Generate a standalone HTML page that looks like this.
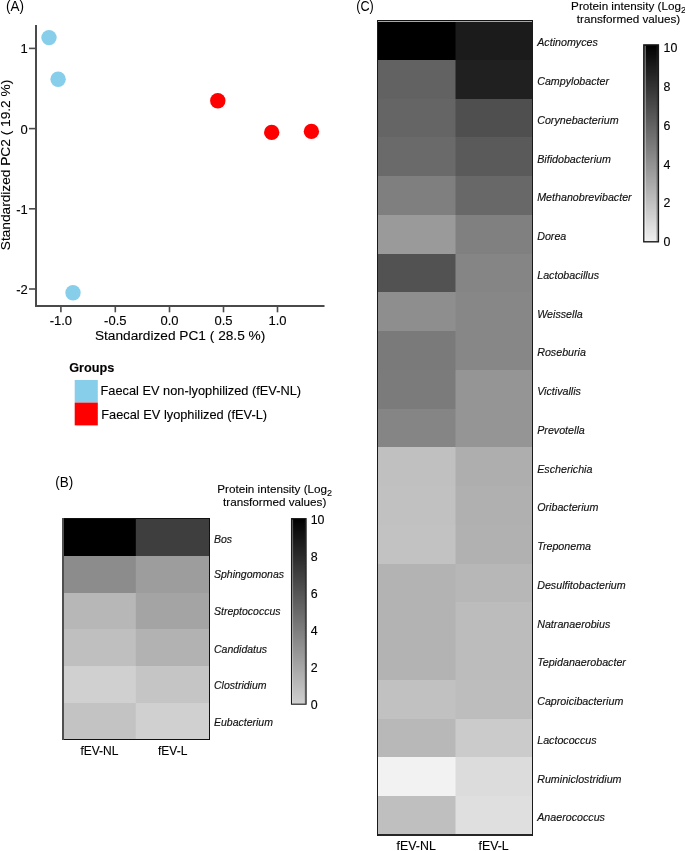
<!DOCTYPE html>
<html><head><meta charset="utf-8"><style>
html,body{margin:0;padding:0;background:#fff;}
svg{display:block;}
text{font-family:"Liberation Sans", Arial, sans-serif;fill:#000;stroke:#000;stroke-width:0.12px;}
text.pl{fill:#000;stroke:none;}
text.it{fill:#111;stroke:#111;stroke-width:0.15px;}
</style></head><body>
<svg width="685" height="851" viewBox="0 0 685 851">
<text class="pl" transform="translate(5.9,10.9) scale(0.97,1)" font-size="13.9">(A)</text>
<path d="M36 25 V306 H324.5" fill="none" stroke="#4a4a4a" stroke-width="2"/>
<line x1="29" y1="48.4" x2="36" y2="48.4" stroke="#4a4a4a" stroke-width="1.6"/>
<text x="27.7" y="53.3" font-size="13" text-anchor="end" >1</text>
<line x1="29" y1="128.6" x2="36" y2="128.6" stroke="#4a4a4a" stroke-width="1.6"/>
<text x="27.7" y="133.5" font-size="13" text-anchor="end" >0</text>
<line x1="29" y1="208.8" x2="36" y2="208.8" stroke="#4a4a4a" stroke-width="1.6"/>
<text x="27.7" y="213.7" font-size="13" text-anchor="end" >-1</text>
<line x1="29" y1="289.0" x2="36" y2="289.0" stroke="#4a4a4a" stroke-width="1.6"/>
<text x="27.7" y="293.9" font-size="13" text-anchor="end" >-2</text>
<line x1="60.9" y1="306" x2="60.9" y2="312.3" stroke="#4a4a4a" stroke-width="1.6"/>
<text x="60.9" y="324.9" font-size="13" text-anchor="middle" >-1.0</text>
<line x1="115.3" y1="306" x2="115.3" y2="312.3" stroke="#4a4a4a" stroke-width="1.6"/>
<text x="115.3" y="324.9" font-size="13" text-anchor="middle" >-0.5</text>
<line x1="169.5" y1="306" x2="169.5" y2="312.3" stroke="#4a4a4a" stroke-width="1.6"/>
<text x="169.5" y="324.9" font-size="13" text-anchor="middle" >0.0</text>
<line x1="223.5" y1="306" x2="223.5" y2="312.3" stroke="#4a4a4a" stroke-width="1.6"/>
<text x="223.5" y="324.9" font-size="13" text-anchor="middle" >0.5</text>
<line x1="277.5" y1="306" x2="277.5" y2="312.3" stroke="#4a4a4a" stroke-width="1.6"/>
<text x="277.5" y="324.9" font-size="13" text-anchor="middle" >1.0</text>
<text x="94.9" y="340" font-size="13.7" text-anchor="start" >Standardized PC1 ( 28.5 %)</text>
<text transform="translate(10.4,165) rotate(-90)" x="0" y="0" font-size="13.7" text-anchor="middle">Standardized PC2 ( 19.2 %)</text>
<circle cx="49" cy="37.6" r="7.7" fill="#87ceeb"/>
<circle cx="58.1" cy="79.2" r="7.7" fill="#87ceeb"/>
<circle cx="73" cy="292.8" r="7.7" fill="#87ceeb"/>
<circle cx="217.8" cy="100.7" r="7.7" fill="#ff0000"/>
<circle cx="271.7" cy="132.4" r="7.7" fill="#ff0000"/>
<circle cx="311.4" cy="131.4" r="7.7" fill="#ff0000"/>
<text x="69.2" y="371.8" font-size="12.7" text-anchor="start" font-weight="bold">Groups</text>
<rect x="74.7" y="380" width="23.1" height="22.6" fill="#87ceeb"/>
<rect x="74.7" y="402.6" width="23.1" height="22.8" fill="#ff0000"/>
<text x="100.5" y="395" font-size="12.8" text-anchor="start" >Faecal EV non-lyophilized (fEV-NL)</text>
<text x="101.3" y="419" font-size="12.8" text-anchor="start" >Faecal EV lyophilized (fEV-L)</text>
<text class="pl" transform="translate(55.3,486.7) scale(0.97,1)" font-size="13.9">(B)</text>
<rect x="63" y="519" width="73" height="37" fill="#000000" shape-rendering="crispEdges"/>
<rect x="135.8" y="519" width="73.19999999999999" height="37" fill="#3e3e3e"/>
<text x="214" y="542.7" font-size="10.5" text-anchor="start" font-style="italic" class="it">Bos</text>
<rect x="63" y="556" width="73" height="37" fill="#8c8c8c" shape-rendering="crispEdges"/>
<rect x="135.8" y="556" width="73.19999999999999" height="37" fill="#9d9d9d"/>
<text x="214" y="577.6" font-size="10.5" text-anchor="start" font-style="italic" class="it">Sphingomonas</text>
<rect x="63" y="593" width="73" height="36" fill="#b7b7b7" shape-rendering="crispEdges"/>
<rect x="135.8" y="593" width="73.19999999999999" height="36" fill="#a4a4a4"/>
<text x="214" y="614.7" font-size="10.5" text-anchor="start" font-style="italic" class="it">Streptococcus</text>
<rect x="63" y="629" width="73" height="37" fill="#bfbfbf" shape-rendering="crispEdges"/>
<rect x="135.8" y="629" width="73.19999999999999" height="37" fill="#b2b2b2"/>
<text x="214" y="652.6" font-size="10.5" text-anchor="start" font-style="italic" class="it">Candidatus</text>
<rect x="63" y="666" width="73" height="37" fill="#d0d0d0" shape-rendering="crispEdges"/>
<rect x="135.8" y="666" width="73.19999999999999" height="37" fill="#c5c5c5"/>
<text x="214" y="689.3" font-size="10.5" text-anchor="start" font-style="italic" class="it">Clostridium</text>
<rect x="63" y="703" width="73" height="37" fill="#c3c3c3" shape-rendering="crispEdges"/>
<rect x="135.8" y="703" width="73.19999999999999" height="37" fill="#d0d0d0"/>
<text x="214" y="725.8" font-size="10.5" text-anchor="start" font-style="italic" class="it">Eubacterium</text>
<g shape-rendering="crispEdges"><rect x="62" y="518" width="148" height="1" fill="#111"/><rect x="62" y="739" width="148" height="1" fill="#111"/><rect x="209" y="518" width="1" height="222" fill="#111"/><rect x="62" y="518" width="2" height="222" fill="#4f4f4f"/></g>
<text x="99.4" y="754.9" font-size="12" text-anchor="middle" >fEV-NL</text>
<text x="172.7" y="754.9" font-size="12" text-anchor="middle" >fEV-L</text>
<text x="274.7" y="492.5" font-size="11.7" text-anchor="middle">Protein intensity (Log<tspan font-size="9" dy="3.4">2</tspan></text>
<text x="274.7" y="505.7" font-size="11.7" text-anchor="middle" >transformed values)</text>
<defs><linearGradient id="gB" x1="0" y1="0" x2="0" y2="1"><stop offset="0" stop-color="#000"/><stop offset="1" stop-color="#d0d0d0"/></linearGradient><linearGradient id="gC" x1="0" y1="0" x2="0" y2="1"><stop offset="0" stop-color="#000"/><stop offset="1" stop-color="#f0f0f0"/></linearGradient></defs>
<rect x="291.5" y="518.6" width="14.6" height="185.6" fill="url(#gB)" stroke="#1a1a1a" stroke-width="1.1"/>
<line x1="292.6" y1="519.5" x2="292.6" y2="703.5" stroke="#fff" stroke-opacity="0.35" stroke-width="1"/>
<line x1="305.3" y1="519.5" x2="305.3" y2="703.5" stroke="#333" stroke-opacity="0.5" stroke-width="1"/>
<text x="310.7" y="708.9" font-size="12.4" text-anchor="start" >0</text>
<text x="310.7" y="671.92" font-size="12.4" text-anchor="start" >2</text>
<text x="310.7" y="634.94" font-size="12.4" text-anchor="start" >4</text>
<text x="310.7" y="597.96" font-size="12.4" text-anchor="start" >6</text>
<text x="310.7" y="560.98" font-size="12.4" text-anchor="start" >8</text>
<text x="310.7" y="524.0" font-size="12.4" text-anchor="start" >10</text>
<text class="pl" transform="translate(356.3,11.1) scale(0.91,1)" font-size="13.9">(C)</text>
<rect x="378" y="21" width="78" height="39" fill="#000000" shape-rendering="crispEdges"/>
<rect x="455.5" y="21" width="77.0" height="39" fill="#1b1b1b"/>
<text x="537.2" y="46.28" font-size="10.7" text-anchor="start" font-style="italic" class="it">Actinomyces</text>
<rect x="378" y="60" width="78" height="39" fill="#626262" shape-rendering="crispEdges"/>
<rect x="455.5" y="60" width="77.0" height="39" fill="#202020"/>
<text x="537.2" y="85.04" font-size="10.7" text-anchor="start" font-style="italic" class="it">Campylobacter</text>
<rect x="378" y="99" width="78" height="38" fill="#656565" shape-rendering="crispEdges"/>
<rect x="455.5" y="99" width="77.0" height="38" fill="#4f4f4f"/>
<text x="537.2" y="123.8" font-size="10.7" text-anchor="start" font-style="italic" class="it">Corynebacterium</text>
<rect x="378" y="137" width="78" height="39" fill="#6a6a6a" shape-rendering="crispEdges"/>
<rect x="455.5" y="137" width="77.0" height="39" fill="#5a5a5a"/>
<text x="537.2" y="162.56" font-size="10.7" text-anchor="start" font-style="italic" class="it">Bifidobacterium</text>
<rect x="378" y="176" width="78" height="39" fill="#7f7f7f" shape-rendering="crispEdges"/>
<rect x="455.5" y="176" width="77.0" height="39" fill="#686868"/>
<text x="537.2" y="201.32" font-size="10.7" text-anchor="start" font-style="italic" class="it">Methanobrevibacter</text>
<rect x="378" y="215" width="78" height="39" fill="#9a9a9a" shape-rendering="crispEdges"/>
<rect x="455.5" y="215" width="77.0" height="39" fill="#808080"/>
<text x="537.2" y="240.08" font-size="10.7" text-anchor="start" font-style="italic" class="it">Dorea</text>
<rect x="378" y="254" width="78" height="38" fill="#525252" shape-rendering="crispEdges"/>
<rect x="455.5" y="254" width="77.0" height="38" fill="#858585"/>
<text x="537.2" y="278.84" font-size="10.7" text-anchor="start" font-style="italic" class="it">Lactobacillus</text>
<rect x="378" y="292" width="78" height="39" fill="#8e8e8e" shape-rendering="crispEdges"/>
<rect x="455.5" y="292" width="77.0" height="39" fill="#878787"/>
<text x="537.2" y="317.6" font-size="10.7" text-anchor="start" font-style="italic" class="it">Weissella</text>
<rect x="378" y="331" width="78" height="39" fill="#7a7a7a" shape-rendering="crispEdges"/>
<rect x="455.5" y="331" width="77.0" height="39" fill="#878787"/>
<text x="537.2" y="356.36" font-size="10.7" text-anchor="start" font-style="italic" class="it">Roseburia</text>
<rect x="378" y="370" width="78" height="39" fill="#7b7b7b" shape-rendering="crispEdges"/>
<rect x="455.5" y="370" width="77.0" height="39" fill="#959595"/>
<text x="537.2" y="395.12" font-size="10.7" text-anchor="start" font-style="italic" class="it">Victivallis</text>
<rect x="378" y="409" width="78" height="38" fill="#858585" shape-rendering="crispEdges"/>
<rect x="455.5" y="409" width="77.0" height="38" fill="#959595"/>
<text x="537.2" y="433.88" font-size="10.7" text-anchor="start" font-style="italic" class="it">Prevotella</text>
<rect x="378" y="447" width="78" height="39" fill="#c0c0c0" shape-rendering="crispEdges"/>
<rect x="455.5" y="447" width="77.0" height="39" fill="#aeaeae"/>
<text x="537.2" y="472.64" font-size="10.7" text-anchor="start" font-style="italic" class="it">Escherichia</text>
<rect x="378" y="486" width="78" height="39" fill="#c1c1c1" shape-rendering="crispEdges"/>
<rect x="455.5" y="486" width="77.0" height="39" fill="#b0b0b0"/>
<text x="537.2" y="511.4" font-size="10.7" text-anchor="start" font-style="italic" class="it">Oribacterium</text>
<rect x="378" y="525" width="78" height="39" fill="#c2c2c2" shape-rendering="crispEdges"/>
<rect x="455.5" y="525" width="77.0" height="39" fill="#b1b1b1"/>
<text x="537.2" y="550.16" font-size="10.7" text-anchor="start" font-style="italic" class="it">Treponema</text>
<rect x="378" y="564" width="78" height="38" fill="#b3b3b3" shape-rendering="crispEdges"/>
<rect x="455.5" y="564" width="77.0" height="38" fill="#b7b7b7"/>
<text x="537.2" y="588.92" font-size="10.7" text-anchor="start" font-style="italic" class="it">Desulfitobacterium</text>
<rect x="378" y="602" width="78" height="39" fill="#b3b3b3" shape-rendering="crispEdges"/>
<rect x="455.5" y="602" width="77.0" height="39" fill="#bcbcbc"/>
<text x="537.2" y="627.68" font-size="10.7" text-anchor="start" font-style="italic" class="it">Natranaerobius</text>
<rect x="378" y="641" width="78" height="39" fill="#b3b3b3" shape-rendering="crispEdges"/>
<rect x="455.5" y="641" width="77.0" height="39" fill="#bcbcbc"/>
<text x="537.2" y="666.44" font-size="10.7" text-anchor="start" font-style="italic" class="it">Tepidanaerobacter</text>
<rect x="378" y="680" width="78" height="39" fill="#c1c1c1" shape-rendering="crispEdges"/>
<rect x="455.5" y="680" width="77.0" height="39" fill="#bdbdbd"/>
<text x="537.2" y="705.2" font-size="10.7" text-anchor="start" font-style="italic" class="it">Caproicibacterium</text>
<rect x="378" y="719" width="78" height="38" fill="#b8b8b8" shape-rendering="crispEdges"/>
<rect x="455.5" y="719" width="77.0" height="38" fill="#cbcbcb"/>
<text x="537.2" y="743.96" font-size="10.7" text-anchor="start" font-style="italic" class="it">Lactococcus</text>
<rect x="378" y="757" width="78" height="39" fill="#f2f2f2" shape-rendering="crispEdges"/>
<rect x="455.5" y="757" width="77.0" height="39" fill="#dcdcdc"/>
<text x="537.2" y="782.72" font-size="10.7" text-anchor="start" font-style="italic" class="it">Ruminiclostridium</text>
<rect x="378" y="796" width="78" height="39" fill="#bfbfbf" shape-rendering="crispEdges"/>
<rect x="455.5" y="796" width="77.0" height="39" fill="#dfdfdf"/>
<text x="537.2" y="821.48" font-size="10.7" text-anchor="start" font-style="italic" class="it">Anaerococcus</text>
<g shape-rendering="crispEdges"><rect x="377" y="20" width="156" height="1" fill="#111"/><rect x="377" y="834" width="156" height="2" fill="#262626"/><rect x="377" y="20" width="1" height="816" fill="#1a1a1a"/><rect x="532" y="20" width="1" height="816" fill="#1a1a1a"/></g>
<rect x="378" y="21" width="154" height="1" fill="#a8a8a8" shape-rendering="crispEdges"/>
<text x="416.2" y="850.1" font-size="12.4" text-anchor="middle" >fEV-NL</text>
<text x="493.6" y="850.1" font-size="12.4" text-anchor="middle" >fEV-L</text>
<text x="628.5" y="9.6" font-size="11.7" text-anchor="middle">Protein intensity (Log<tspan font-size="9" dy="3.4">2</tspan></text>
<text x="628.5" y="22.8" font-size="11.7" text-anchor="middle" >transformed values)</text>
<rect x="643.8" y="44.9" width="14.6" height="196.9" fill="url(#gC)" stroke="#1a1a1a" stroke-width="1.4"/>
<line x1="645.2" y1="45.8" x2="645.2" y2="241" stroke="#fff" stroke-opacity="0.55" stroke-width="1"/>
<line x1="657" y1="45.8" x2="657" y2="241" stroke="#333" stroke-opacity="0.4" stroke-width="1"/>
<text x="663.5" y="246.2" font-size="12.4" text-anchor="start" >0</text>
<text x="663.5" y="207.36" font-size="12.4" text-anchor="start" >2</text>
<text x="663.5" y="168.52" font-size="12.4" text-anchor="start" >4</text>
<text x="663.5" y="129.68" font-size="12.4" text-anchor="start" >6</text>
<text x="663.5" y="90.84" font-size="12.4" text-anchor="start" >8</text>
<text x="663.5" y="52.0" font-size="12.4" text-anchor="start" >10</text>
</svg>
</body></html>
